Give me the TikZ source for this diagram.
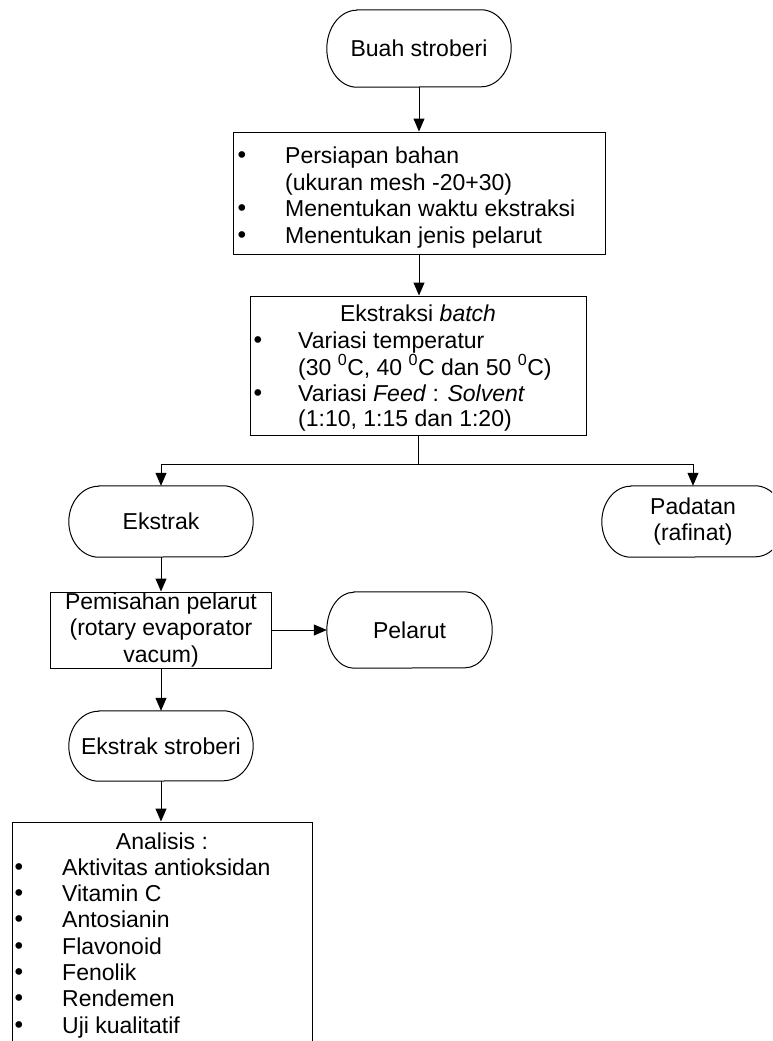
\documentclass[tikz,border=0pt]{standalone}
\usepackage{fontspec}
\setmainfont{Liberation Sans}
\newfontfamily\dotfont{DejaVu Sans}
\usetikzlibrary{arrows.meta}
\begin{document}
\begin{tikzpicture}[x=1pt,y=-1pt,
  every node/.style={font=\fontsize{23pt}{26.5pt}\selectfont, inner sep=0pt},
  outline/.style={draw=black, line width=1pt},
  box/.style={outline, rectangle},
  flat/.style={rectangle, align=center},
  arr/.style={line width=1pt, -{Triangle[length=13pt,width=11pt]}},
  link/.style={line width=1pt},
  line/.style={anchor=base west},
  dot/.style={anchor=base, font=\fontsize{23pt}{26.5pt}\dotfont},
]
\useasboundingbox (0,0) rectangle (772,1041);
\fill[white] (0,0) rectangle (772,1041);
\clip (0,0) rectangle (772,1041);

% main flow nodes
\node[flat, minimum width=184pt, minimum height=77pt] (buah) at (419,48.5) {Buah stroberi};
\node[box, minimum width=372pt, minimum height=122pt] (prep) at (419,193) {};
\node[box, minimum width=336pt, minimum height=139pt] (ekstraksi) at (418.5,365.5) {};
\node[flat, minimum width=184pt, minimum height=71pt] (ekstrak) at (161,521.5) {Ekstrak};
\node[flat, minimum width=182pt, minimum height=71pt] (padatan) at (693,521.5) {Padatan\\(rafinat)};
\node[box, minimum width=221pt, minimum height=76pt, align=center] (pisah) at (161,630) {Pemisahan pelarut\\(rotary evaporator\\vacum)};
\node[flat, minimum width=165pt, minimum height=76pt] (pelarut) at (409.5,630) {Pelarut};
\node[flat, minimum width=184pt, minimum height=70pt] (hasil) at (161,746) {Ekstrak stroberi};
\node[box, minimum width=300pt, minimum height=240pt] (analisis) at (162,942) {};

% terminator outlines with elliptical ends
\foreach \nm/\rx/\ry in {buah/30/38.5, ekstrak/30/35.5, padatan/29/35.5, pelarut/27/38, hasil/30/35}
  \draw[outline] ([xshift=\rx pt]\nm.north west) -- ([xshift=-\rx pt]\nm.north east)
     arc[start angle=90, end angle=-90, x radius=\rx pt, y radius=\ry pt]
     -- ([xshift=\rx pt]\nm.south west)
     arc[start angle=270, end angle=90, x radius=\rx pt, y radius=\ry pt] -- cycle;

% preparation list
\node[dot] (p1b) at (242,163) {•};
\node[line] (p1) at (285,163) {Persiapan bahan};
\node[line] (p2) at (285,190) {(ukuran mesh -20+30)};
\node[dot] (p3b) at (242,216) {•};
\node[line] (p3) at (285,216) {Menentukan waktu ekstraksi};
\node[dot] (p4b) at (242,243) {•};
\node[line] (p4) at (285,243) {Menentukan jenis pelarut};

% batch extraction list
\node[anchor=base] (e0) at (418,321) {Ekstraksi \textit{batch}};
\node[dot] (e1b) at (258,348) {•};
\node[line] (e1) at (298,348) {Variasi temperatur};
\node[line] (e2) at (298,375) {(30 \textsuperscript{0}C, 40 \textsuperscript{0}C dan 50 \textsuperscript{0}C)};
\node[dot] (e3b) at (258,401) {•};
\node[line] (e3) at (298,401) {Variasi \textit{Feed} : \textit{Solvent}};
\node[line] (e4) at (298,426) {(1:10, 1:15 dan 1:20)};

% analysis list
\node[anchor=base] (a0) at (162,849) {Analisis :};
\foreach \t [count=\i] in {Aktivitas antioksidan, Vitamin C, Antosianin, Flavonoid, Fenolik, Rendemen, Uji kualitatif} {
  \node[dot] (ab\i) at (19,{849+26.3*\i}) {•};
  \node[line] (a\i) at (62,{849+26.3*\i}) {\t};
}

% connectors
\draw[arr] (buah.south) -- (prep.north);
\draw[arr] (prep.south) -- (prep.south |- ekstraksi.north);
\coordinate (cabang) at (418.5,464);
\draw[link] (ekstraksi.south) -- (cabang);
\draw[arr] (cabang) -| (ekstrak.north);
\draw[arr] (cabang) -| (padatan.north);
\draw[arr] (ekstrak.south) -- (pisah.north);
\draw[arr] (pisah.east) -- (pelarut.west);
\draw[arr] (pisah.south) -- (hasil.north);
\draw[arr] (hasil.south) -- (hasil.south |- analisis.north);
\end{tikzpicture}
\end{document}
